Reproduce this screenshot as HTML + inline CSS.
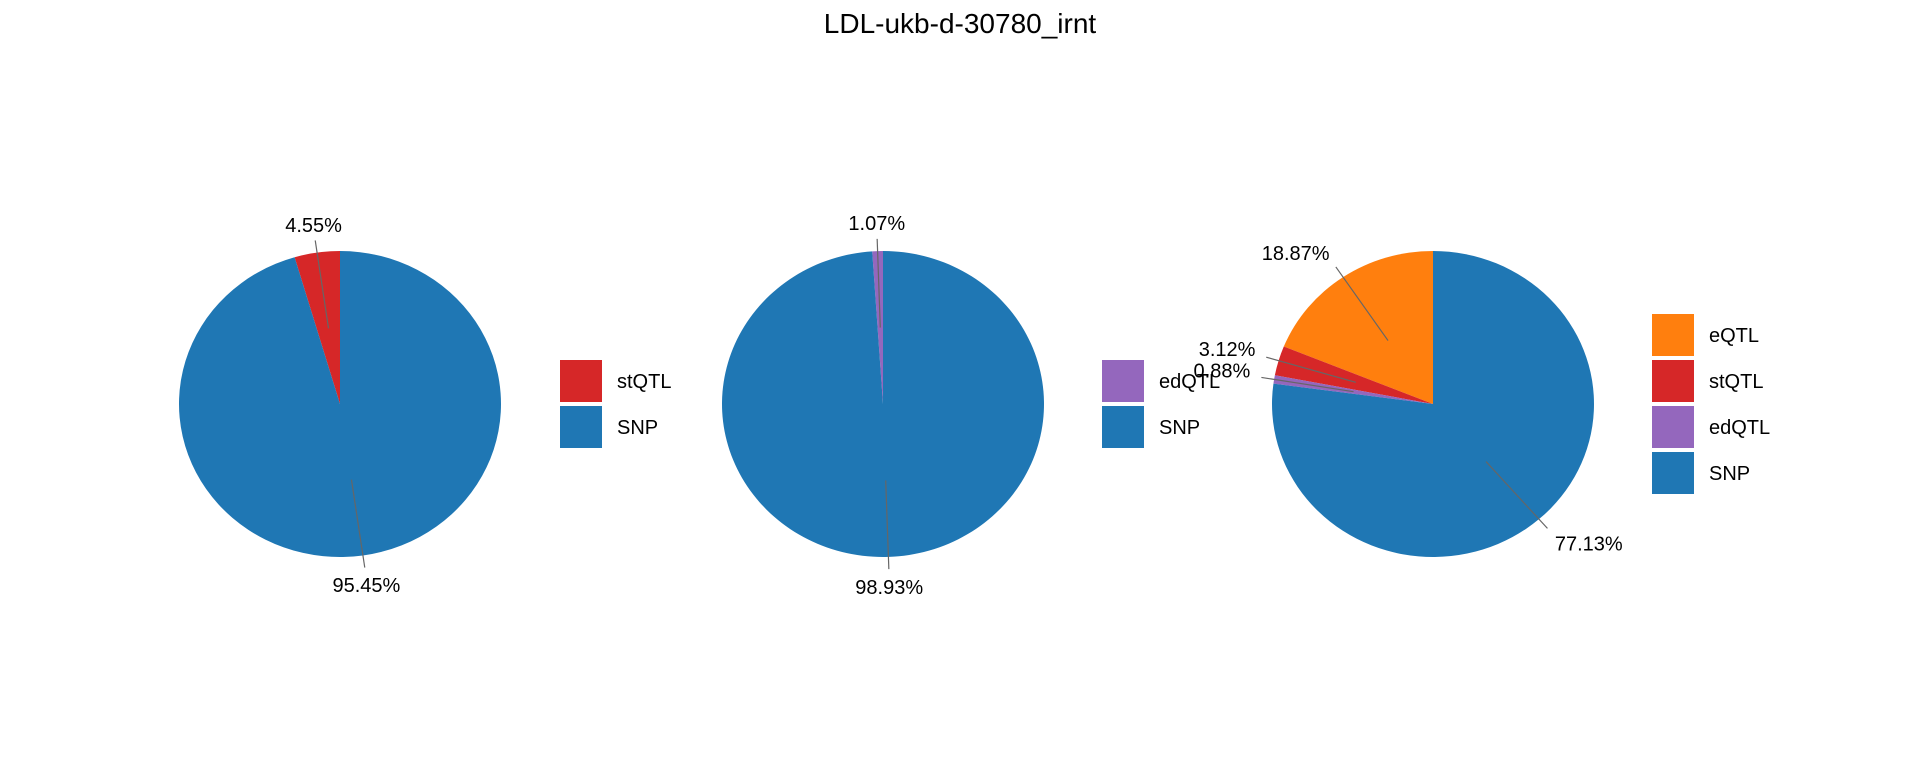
<!DOCTYPE html>
<html><head><meta charset="utf-8"><style>
html,body{margin:0;padding:0;background:#fff;}
svg{display:block;font-family:"Liberation Sans",sans-serif;}
</style></head><body>
<svg id="chart" width="1920" height="768" viewBox="0 0 1920 768">
<text x="960" y="33" font-size="28" text-anchor="middle" fill="#000">LDL-ukb-d-30780_irnt</text>
</svg>
<script>
const colors = {eQTL:'#ff7f0e', stQTL:'#d62728', edQTL:'#9467bd', SNP:'#1f77b4'};
const pie1Categories = ['stQTL','SNP'];
const pie1Values = [4.55, 95.45];
const pie2Categories = ['edQTL','SNP'];
const pie2Values = [1.07, 98.93];
const pie3Categories = ['eQTL','stQTL','edQTL','SNP'];
const pie3Values = [18.87, 3.12, 0.88, 77.13];

const NS='http://www.w3.org/2000/svg';
const svg=document.getElementById('chart');
function mk(tag,attrs,parent){const e=document.createElementNS(NS,tag);for(const k in attrs)e.setAttribute(k,attrs[k]);(parent||svg).appendChild(e);return e;}
const RX=161, RY=153, CY=404;
function pt(cx,a,f){ // a fraction ccw from top
  const t=a*2*Math.PI;return [cx-Math.sin(t)*RX*f, CY-Math.cos(t)*RY*f];}
function drawPie(idx,cx,cats,vals,legX){
  const g=mk('g',{});
  
  
  const total=vals.reduce((a,b)=>a+b,0);
  let acc=0;
  cats.forEach((c,i)=>{
    const s=acc/total,e=(acc+vals[i])/total;acc+=vals[i];
    const p0=pt(cx,s,1),p1=pt(cx,e,1);
    const large=(e-s)>0.5?1:0;
    const path=mk('path',{d:`M${cx},${CY} L${p0[0]},${p0[1]} A${RX},${RY} 0 ${large} 0 ${p1[0]},${p1[1]} Z`,fill:colors[c]},g);
    
    
  });
  acc=0;
  cats.forEach((c,i)=>{
    const m=(acc+vals[i]/2)/total;acc+=vals[i];
    const a=pt(cx,m,0.5),b=pt(cx,m,1.08),t=pt(cx,m,1.15);
    const ln=mk('line',{x1:a[0],y1:a[1],x2:b[0],y2:b[1],stroke:'#666','stroke-width':1.2},g);
    
    
    const dx=t[0]-cx;
    const anchor=Math.abs(dx)<40?'middle':(dx<0?'end':'start');
    const tx=mk('text',{x:t[0],y:t[1]+(t[1]>CY?14:2),'font-size':20,'text-anchor':anchor,fill:'#000'},g);
    tx.textContent=vals[i].toFixed(2)+'%';
    
    
  });
  const n=cats.length, top=CY-n*46/2+2;
  cats.forEach((c,i)=>{
    const lg=mk('g',{},g);
    
    
    mk('rect',{x:legX,y:top+i*46,width:42,height:42,fill:colors[c]},lg);
    const t=mk('text',{x:legX+57,y:top+i*46+28,'font-size':20,fill:'#000'},lg);
    t.textContent=c;
  });
}
drawPie(1,340,pie1Categories,pie1Values,560);
drawPie(2,883,pie2Categories,pie2Values,1102);
drawPie(3,1433,pie3Categories,pie3Values,1652);
</script>
</body></html>
